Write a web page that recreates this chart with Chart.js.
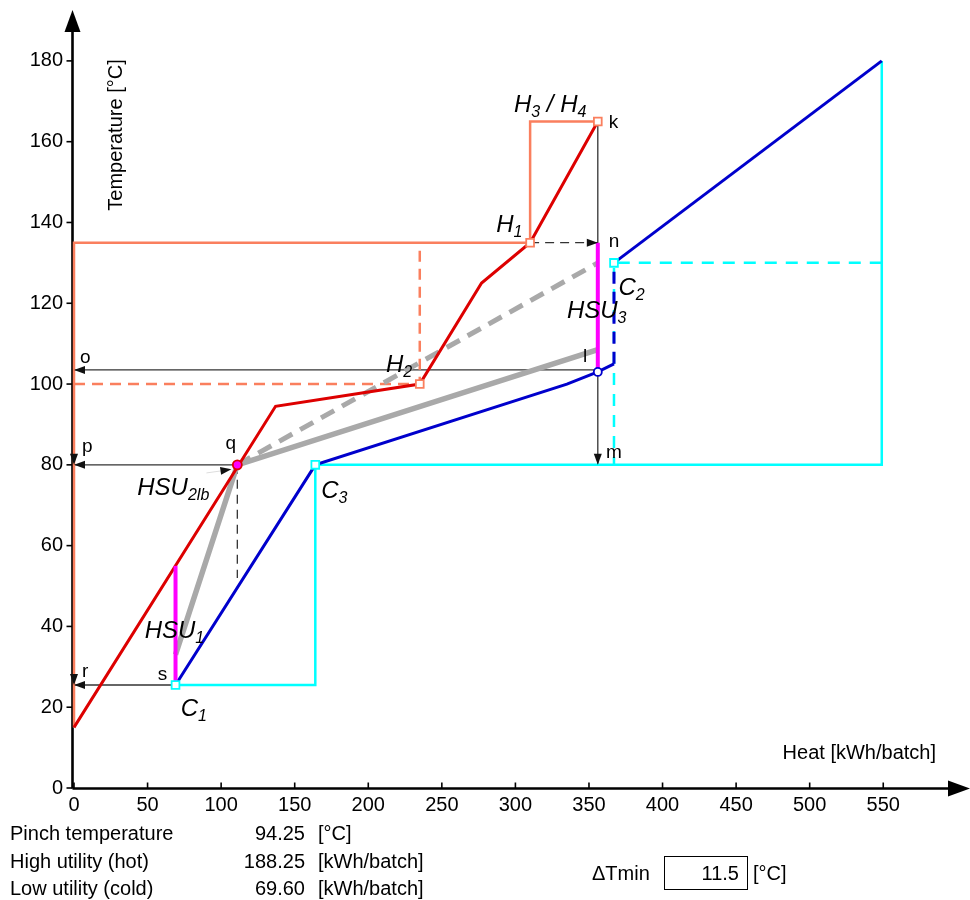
<!DOCTYPE html>
<html>
<head>
<meta charset="utf-8">
<script src="https://cdn.jsdelivr.net/npm/chart.js@4.4.0/dist/chart.umd.min.js"></script>
<style>
body { margin: 0; background: #fff; font-family: "Liberation Sans", Arial, sans-serif; }
#wrap { position: relative; width: 970px; height: 900px; }
.t { position: absolute; font-size: 20px; line-height: 22px; color: #000; white-space: nowrap; }
.r { text-align: right; }
#dt-box { position: absolute; left: 664px; top: 856px; width: 84px; height: 34px; border: 1.5px solid #000; box-sizing: border-box; }
</style>
</head>
<body>
<div id="wrap">
<canvas id="chart-1" width="970" height="900"></canvas>
<div class="t" style="left:10px;top:822px">Pinch temperature</div>
<div class="t" style="left:10px;top:850px">High utility (hot)</div>
<div class="t" style="left:10px;top:877px">Low utility (cold)</div>
<div class="t r" id="pinch-val" style="right:665px;top:822px"></div>
<div class="t r" id="hot-val" style="right:665px;top:850px"></div>
<div class="t r" id="cold-val" style="right:665px;top:877px"></div>
<div class="t" style="left:318px;top:822px">[°C]</div>
<div class="t" style="left:318px;top:850px">[kWh/batch]</div>
<div class="t" style="left:318px;top:877px">[kWh/batch]</div>
<div class="t" style="left:592px;top:862px">ΔTmin</div>
<div id="dt-box"></div>
<div class="t r" id="dt-val" style="right:231px;top:862px"></div>
<div class="t" style="left:753px;top:862px">[°C]</div>
</div>
<script>
// axis ticks
var xTicks = [0, 50, 100, 150, 200, 250, 300, 350, 400, 450, 500, 550];
var yTicks = [0, 20, 40, 60, 80, 100, 120, 140, 160, 180];

// composite curves  (heat [kWh/batch], temperature [°C])
var hotQ = [0, 137, 235, 277, 310, 356];
var hotT = [15, 94.5, 100, 125, 135, 165];
var coldQ = [69, 164, 335, 356, 367];
var coldT = [25.5, 80, 100, 103, 105];
var coldJumpQ = [367, 367];
var coldJumpT = [105, 130];
var coldTopQ = [367, 549];
var coldTopT = [130, 180];

// stream boxes
var h1BoxQ = [0, 0, 310, 310, 356];
var h1BoxT = [15, 135, 135, 165, 165];
var h2BoxQ = [0, 235, 235];
var h2BoxT = [100, 100, 135];
var c1BoxQ = [69, 164, 164];
var c1BoxT = [25.5, 25.5, 80];
var c3BoxQ = [164, 549, 549];
var c3BoxT = [80, 80, 180];
var c2BoxQ = [549, 367, 367];
var c2BoxT = [130, 130, 80];

// heat storage
var hsuQ = [69, 111, 356];
var hsuT = [33, 80, 108.5];
var hsuDashQ = [111, 356];
var hsuDashT = [80, 130];
var hsu1Q = [69, 69];
var hsu1T = [25.5, 55];
var hsu3Q = [356, 356];
var hsu3T = [103, 135];

// markers
var hotMarkQ = [310, 235, 356];
var hotMarkT = [135, 100, 165];
var coldMarkQ = [69, 367, 164];
var coldMarkT = [25.5, 130, 80];
var pinchQ = [111];
var pinchT = [80];
var lPointQ = [356];
var lPointT = [103];

// arrows (from -> to)
var arrowFromQ = [356, 111, 69, 0, 0, 356, 310];
var arrowFromT = [103.5, 80, 25.5, 103.5, 80, 165, 135];
var arrowToQ = [0, 0, 0, 0, 0, 356, 356];
var arrowToT = [103.5, 80, 25.5, 80, 25.5, 80, 135];
var arrowDashed = [false, false, false, false, false, false, true];

// dashed guide under q
var qGuideQ = [111, 111];
var qGuideT = [80, 52];

// results
var pinchTemp = '94.25';
var hotUtility = '188.25';
var coldUtility = '69.60';
var dTmin = '11.5';

document.getElementById('pinch-val').textContent = pinchTemp;
document.getElementById('hot-val').textContent = hotUtility;
document.getElementById('cold-val').textContent = coldUtility;
document.getElementById('dt-val').textContent = dTmin;

var red = '#DD0000', blue = '#0000CC', salmon = '#FA7F5E', cyan = '#00FFFF',
    magenta = '#FF00FF', grey = '#A9A9A9', ink = '#333';
var fontFam = '"Liberation Sans", Arial, sans-serif';

function pts(qs, ts) {
    return qs.map(function (q, i) { return {x: q, y: ts[i]}; });
}
function line(qs, ts, color, width, dash, order) {
    return {
        data: pts(qs, ts), showLine: true, borderColor: color, borderWidth: width,
        borderDash: dash || [], pointRadius: 0, pointHoverRadius: 0, fill: false,
        tension: 0, clip: 12, order: order
    };
}
function marks(qs, ts, style, color, bg, r, order) {
    return {
        data: pts(qs, ts), showLine: false, pointStyle: style, pointRadius: r,
        pointHoverRadius: r, borderColor: color, backgroundColor: bg,
        pointBorderColor: color, pointBackgroundColor: bg, pointBorderWidth: 1.8,
        clip: 12, order: order
    };
}

// text labels: position in data units (left, baseline)
var notes = [
    {q: 299, t: 167.4, it: true, parts: [['H', 0], ['3', 1], [' / ', 0], ['H', 0], ['4', 1]]},
    {q: 287, t: 137.7, it: true, parts: [['H', 0], ['1', 1]]},
    {q: 212, t: 103, it: true, parts: [['H', 0], ['2', 1]]},
    {q: 335, t: 116.3, it: true, parts: [['HSU', 0], ['3', 1]]},
    {q: 370, t: 122, it: true, parts: [['C', 0], ['2', 1]]},
    {q: 168, t: 71.8, it: true, parts: [['C', 0], ['3', 1]]},
    {q: 72.5, t: 17.8, it: true, parts: [['C', 0], ['1', 1]]},
    {q: 48, t: 37.1, it: true, parts: [['HSU', 0], ['1', 1]]},
    {q: 43, t: 72.5, it: true, parts: [['HSU', 0], ['2lb', 1]]},
    {q: 363.5, t: 163.4, parts: [['k', 0]]},
    {q: 363.5, t: 133.9, parts: [['n', 0]]},
    {q: 346, t: 105.4, parts: [['l', 0]]},
    {q: 361.5, t: 81.7, parts: [['m', 0]]},
    {q: 4, t: 105.2, parts: [['o', 0]]},
    {q: 5.5, t: 83.2, parts: [['p', 0]]},
    {q: 103, t: 84, parts: [['q', 0]]},
    {q: 5.5, t: 27.4, parts: [['r', 0]]},
    {q: 57, t: 26.8, parts: [['s', 0]]}
];

function head(ctx, x1, y1, x2, y2) {
    var a = Math.atan2(y2 - y1, x2 - x1);
    ctx.save();
    ctx.translate(x2, y2);
    ctx.rotate(a);
    ctx.beginPath();
    ctx.moveTo(0, 0);
    ctx.lineTo(-11, -4);
    ctx.lineTo(-11, 4);
    ctx.closePath();
    ctx.fill();
    ctx.restore();
}

var pinchPlugin = {
    id: 'pinchPlugin',
    beforeDatasetsDraw: function (chart) {
        var ctx = chart.ctx, xs = chart.scales.x, ys = chart.scales.y, a = chart.chartArea;
        ctx.save();
        // black guide lines
        ctx.strokeStyle = ink;
        ctx.lineWidth = 1.3;
        for (var i = 0; i < arrowFromQ.length; i++) {
            ctx.setLineDash(arrowDashed[i] ? [9, 6] : []);
            ctx.beginPath();
            ctx.moveTo(xs.getPixelForValue(arrowFromQ[i]), ys.getPixelForValue(arrowFromT[i]));
            ctx.lineTo(xs.getPixelForValue(arrowToQ[i]), ys.getPixelForValue(arrowToT[i]));
            ctx.stroke();
        }
        ctx.setLineDash([9, 6]);
        ctx.beginPath();
        ctx.moveTo(xs.getPixelForValue(qGuideQ[0]), ys.getPixelForValue(qGuideT[0]));
        ctx.lineTo(xs.getPixelForValue(qGuideQ[1]), ys.getPixelForValue(qGuideT[1]));
        ctx.stroke();
        ctx.setLineDash([]);
        // faint pointer to q
        ctx.strokeStyle = '#ddd';
        ctx.lineWidth = 1;
        ctx.beginPath();
        ctx.moveTo(xs.getPixelForValue(90), ys.getPixelForValue(78));
        ctx.lineTo(xs.getPixelForValue(106), ys.getPixelForValue(78.8));
        ctx.stroke();
        // axes
        ctx.strokeStyle = '#000';
        ctx.fillStyle = '#000';
        ctx.lineWidth = 2.6;
        var x0 = a.left - 1.5, y0 = ys.getPixelForValue(0) + 0.5;
        var tipX = chart.width, tipY = a.top;
        ctx.beginPath();
        ctx.moveTo(x0, y0);
        ctx.lineTo(x0, tipY + 18);
        ctx.moveTo(x0, y0);
        ctx.lineTo(tipX - 18, y0);
        ctx.stroke();
        ctx.beginPath();
        ctx.moveTo(x0, tipY);
        ctx.lineTo(x0 - 8, tipY + 22);
        ctx.lineTo(x0 + 8, tipY + 22);
        ctx.closePath();
        ctx.fill();
        ctx.beginPath();
        ctx.moveTo(tipX, y0);
        ctx.lineTo(tipX - 22, y0 - 8);
        ctx.lineTo(tipX - 22, y0 + 8);
        ctx.closePath();
        ctx.fill();
        ctx.lineWidth = 1.6;
        xTicks.forEach(function (v) {
            var px = xs.getPixelForValue(v);
            ctx.beginPath();
            ctx.moveTo(px, y0);
            ctx.lineTo(px, y0 - 6);
            ctx.stroke();
        });
        yTicks.forEach(function (v) {
            var py = ys.getPixelForValue(v);
            ctx.beginPath();
            ctx.moveTo(x0, py);
            ctx.lineTo(x0 - 6, py);
            ctx.stroke();
        });
        ctx.restore();
    },
    afterDatasetsDraw: function (chart) {
        var ctx = chart.ctx, xs = chart.scales.x, ys = chart.scales.y;
        ctx.save();
        // arrow heads
        ctx.fillStyle = '#111';
        for (var i = 0; i < arrowFromQ.length; i++) {
            head(ctx, xs.getPixelForValue(arrowFromQ[i]), ys.getPixelForValue(arrowFromT[i]),
                 xs.getPixelForValue(arrowToQ[i]), ys.getPixelForValue(arrowToT[i]));
        }
        head(ctx, xs.getPixelForValue(90), ys.getPixelForValue(78),
             xs.getPixelForValue(107), ys.getPixelForValue(78.9));
        // labels
        ctx.fillStyle = '#000';
        ctx.textBaseline = 'alphabetic';
        ctx.textAlign = 'left';
        notes.forEach(function (n) {
            var x = xs.getPixelForValue(n.q), y = ys.getPixelForValue(n.t);
            n.parts.forEach(function (p) {
                var big = n.it ? 24 : 19;
                var size = p[1] ? 16 : big;
                ctx.font = (n.it ? 'italic ' : '') + size + 'px ' + fontFam;
                ctx.fillText(p[0], x, y + (p[1] ? 5 : 0));
                x += ctx.measureText(p[0]).width;
            });
        });
        // axis titles
        ctx.font = '20px ' + fontFam;
        ctx.save();
        ctx.translate(122, 135);
        ctx.rotate(-Math.PI / 2);
        ctx.textAlign = 'center';
        ctx.fillText('Temperature [°C]', 0, 0);
        ctx.restore();
        ctx.textAlign = 'right';
        ctx.fillText('Heat [kWh/batch]', 936, 759);
        ctx.restore();
    }
};

var tickFont = {family: fontFam, size: 20};

var config = {
    type: 'scatter',
    data: {
        datasets: [
            marks(pinchQ, pinchT, 'circle', red, magenta, 4.5, 0),
            marks(hotMarkQ, hotMarkT, 'rect', salmon, '#fff', 5.5, 0),
            marks(coldMarkQ, coldMarkT, 'rect', cyan, '#fff', 5.5, 0),
            marks(lPointQ, lPointT, 'circle', blue, '#fff', 4, 0),
            line(hsu1Q, hsu1T, magenta, 4, null, 1),
            line(hsu3Q, hsu3T, magenta, 4, null, 1),
            line(hotQ, hotT, red, 3, null, 2),
            line(coldQ, coldT, blue, 3, null, 2),
            line(coldJumpQ, coldJumpT, blue, 3, [12, 8], 2),
            line(coldTopQ, coldTopT, blue, 3, null, 2),
            line(hsuQ, hsuT, grey, 5.5, null, 3),
            line(hsuDashQ, hsuDashT, grey, 5, [15, 9], 3),
            line(h1BoxQ, h1BoxT, salmon, 2.5, null, 4),
            line(h2BoxQ, h2BoxT, salmon, 2.5, [11, 7], 4),
            line(c1BoxQ, c1BoxT, cyan, 2.5, null, 4),
            line(c3BoxQ, c3BoxT, cyan, 2.5, null, 4),
            line(c2BoxQ, c2BoxT, cyan, 2.5, [12, 9], 4)
        ]
    },
    options: {
        responsive: false,
        animation: false,
        events: [],
        layout: {padding: {top: 10, right: 0, left: 0, bottom: 0}},
        plugins: {
            legend: {display: false},
            tooltip: {enabled: false}
        },
        scales: {
            x: {
                type: 'linear',
                min: 0,
                max: 604,
                grid: {display: false, drawTicks: false},
                border: {display: false},
                afterFit: function (scale) {
                    scale.height = 112;
                    scale.paddingLeft = 0;
                    scale.paddingRight = 0;
                },
                ticks: {
                    stepSize: 50,
                    includeBounds: false,
                    maxRotation: 0,
                    autoSkip: false,
                    padding: 5,
                    color: '#000',
                    font: tickFont,
                    callback: function (v) { return xTicks.indexOf(v) < 0 ? '' : String(v); }
                }
            },
            y: {
                type: 'linear',
                min: 0,
                max: 192.6,
                grid: {display: false, drawTicks: false},
                border: {display: false},
                afterFit: function (scale) {
                    scale.width = 74;
                    scale.paddingTop = 0;
                    scale.paddingBottom = 0;
                },
                ticks: {
                    stepSize: 20,
                    includeBounds: false,
                    autoSkip: false,
                    padding: 11,
                    color: '#000',
                    font: tickFont,
                    callback: function (v) { return yTicks.indexOf(v) < 0 ? '' : String(v); }
                }
            }
        }
    },
    plugins: [pinchPlugin]
};

var pinchChart = new Chart(document.getElementById('chart-1'), config);
</script>
</body>
</html>
